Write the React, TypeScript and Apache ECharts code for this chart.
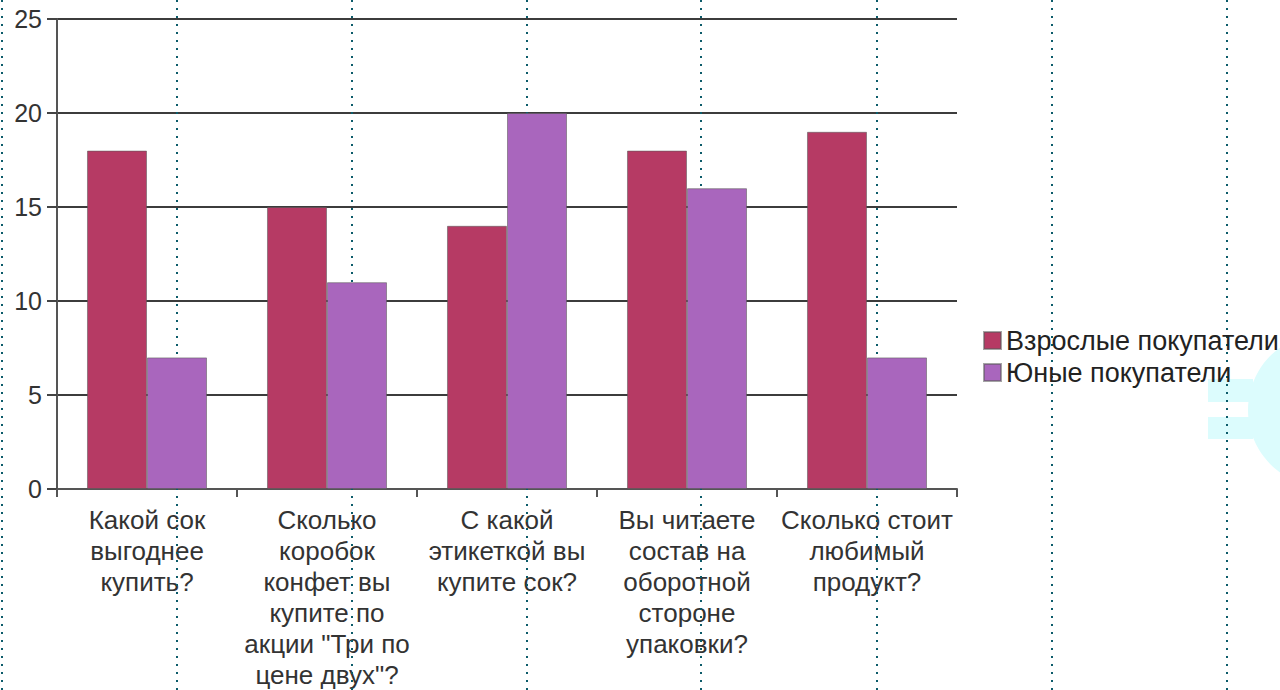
import React, { useEffect, useRef } from "react";
import * as echarts from "echarts";

const categories = [
  "Какой сок\nвыгоднее\nкупить?",
  "Сколько\nкоробок\nконфет вы\nкупите по\nакции \"Три по\nцене двух\"?",
  "С какой\nэтикеткой вы\nкупите сок?",
  "Вы читаете\nсостав на\nоборотной\nстороне\nупаковки?",
  "Сколько стоит\nлюбимый\nпродукт?",
];
const seriesNames = ["Взрослые покупатели", "Юные покупатели"];
const adults = [18, 15, 14, 18, 19];
const youth = [7, 11, 20, 16, 7];
const yMin = 0;
const yMax = 25;
const yStep = 5;

const FONT = "'Liberation Sans', Arial, sans-serif";

export default function App() {
  const ref = useRef<HTMLDivElement>(null);
  useEffect(() => {
    if (!ref.current) return;
    const chart = echarts.init(ref.current, null, { renderer: "svg" });
    const dotXs = [2, 177, 352, 527, 701, 877, 1052, 1227];
    const dotted = dotXs.map((x) => ({
      type: "line",
      z: 1,
      shape: { x1: x, y1: 0, x2: x, y2: 690 },
      style: { stroke: "#0c5b6a", lineWidth: 2, lineDash: [2, 6] },
      silent: true,
    }));
    const cyan = "#dcfcfd";
    const deco = [
      { type: "circle", z: 0, shape: { cx: 1325, cy: 410, r: 77 }, style: { fill: cyan }, silent: true },
      { type: "rect", z: 0, shape: { x: 1208, y: 379, width: 45, height: 23 }, style: { fill: cyan }, silent: true },
      { type: "rect", z: 0, shape: { x: 1208, y: 417, width: 45, height: 22 }, style: { fill: cyan }, silent: true },
    ];
    chart.setOption({
      animation: false,
      textStyle: { fontFamily: FONT },
      grid: { left: 57, top: 19, right: 323, bottom: 196, containLabel: false },
      legend: {
        orient: "vertical",
        left: 983,
        top: 327,
        padding: 0,
        itemWidth: 17,
        itemHeight: 17,
        itemGap: 5,
        icon: "rect",
        data: seriesNames,
        textStyle: { fontSize: 27, color: "#222", fontFamily: FONT, lineHeight: 17 },
      },
      xAxis: {
        type: "category",
        data: categories,
        axisLine: { show: true, lineStyle: { color: "#555", width: 2 } },
        axisTick: { show: true, length: 8, lineStyle: { color: "#555", width: 2 } },
        axisLabel: {
          interval: 0,
          margin: 15,
          fontSize: 26,
          lineHeight: 31,
          color: "#333",
          fontFamily: FONT,
          align: "center",
        },
        splitLine: { show: false },
      },
      yAxis: {
        type: "value",
        min: yMin,
        max: yMax,
        interval: yStep,
        axisLine: { show: true, lineStyle: { color: "#555", width: 2 } },
        axisTick: { show: true, length: 10, lineStyle: { color: "#444", width: 2 } },
        axisLabel: { margin: 15, fontSize: 25, color: "#333", fontFamily: FONT },
        splitLine: { show: true, lineStyle: { color: "#3c3c3c", width: 2 } },
      },
      series: [
        {
          name: seriesNames[0],
          type: "bar",
          data: adults,
          barGap: "0%",
          barCategoryGap: "33.33%",
          z: 3,
          itemStyle: { color: "#b63a64", borderColor: "rgba(90,90,90,0.55)", borderWidth: 1 },
        },
        {
          name: seriesNames[1],
          type: "bar",
          data: youth,
          barGap: "0%",
          barCategoryGap: "33.33%",
          z: 3,
          itemStyle: { color: "#a966bd", borderColor: "rgba(90,90,90,0.55)", borderWidth: 1 },
        },
      ],
      graphic: { elements: [...deco, ...dotted] },
    });
    return () => chart.dispose();
  }, []);
  return (
    <div
      ref={ref}
      style={{ position: "absolute", left: 0, top: 0, width: 1280, height: 690, background: "#fff" }}
    />
  );
}
